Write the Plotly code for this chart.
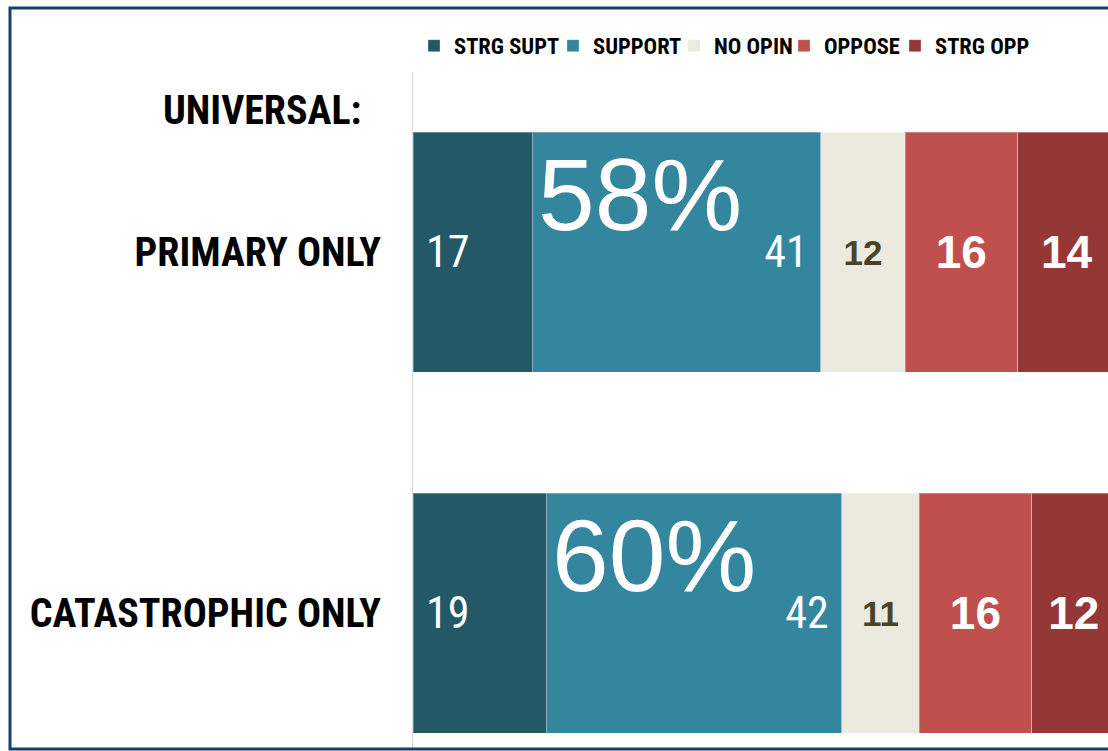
import plotly.graph_objects as go

categories = ["PRIMARY ONLY", "CATASTROPHIC ONLY"]
series_names = ["STRG SUPT", "SUPPORT", "NO OPIN", "OPPOSE", "STRG OPP"]
strg_supt = [17, 19]
support = [41, 42]
no_opin = [12, 11]
oppose = [16, 16]
strg_opp = [14, 12]
total_support = [58, 60]
group_label = "UNIVERSAL:"

series_values = [strg_supt, support, no_opin, oppose, strg_opp]
colors = ["#235866", "#33869E", "#ECEADF", "#C0504D", "#953735"]

COND = "Roboto, Liberation Sans Narrow, Arial Narrow, sans-serif"
REG = "Liberation Sans, Arial, sans-serif"
NB = "\u00a0"

W, H = 1116, 751
ML, MT = 413, 72
PW, PH = W - ML, H - MT


def px(xp):
    return (xp - ML) / PW


def py(yp):
    return 1 - (yp - MT) / PH


def cond(s, bold=False):
    inner = "<b>%s</b>" % s if bold else s
    return "<span style='font-stretch:condensed'>%s</span>" % inner


styles = [
    dict(font=dict(family=COND, size=44, color="white"), anchor="start",
         fmt=lambda v: cond(NB + str(v))),
    dict(font=dict(family=COND, size=44, color="white"), anchor="end",
         fmt=lambda v: cond(str(v) + NB)),
    dict(font=dict(family=REG, size=35, color="#494429"), anchor="middle",
         fmt=lambda v: "<b>%d</b>" % v),
    dict(font=dict(family=REG, size=46, color="white"), anchor="middle",
         fmt=lambda v: "<b>%d</b>" % v),
    dict(font=dict(family=REG, size=46, color="white"), anchor="middle",
         fmt=lambda v: "<b>%d</b>" % v),
]

legend_ids = ["legend", "legend2", "legend3", "legend4", "legend5"]
legend_text_x = [454, 593, 714, 824, 935]

fig = go.Figure()
for name, vals, col, st, lid in zip(series_names, series_values, colors, styles, legend_ids):
    fig.add_trace(go.Bar(
        name=cond(name, bold=True), y=categories, x=vals, orientation="h",
        marker=dict(color=col, line=dict(color="rgba(255,255,255,0.3)", width=1)),
        text=[st["fmt"](v) for v in vals], textposition="inside",
        insidetextanchor=st["anchor"], textfont=st["font"],
        width=0.665, hoverinfo="skip", legend=lid,
    ))

for cat, base, tot in zip(categories, strg_supt, total_support):
    fig.add_annotation(x=base, y=cat, xref="x", yref="y", text="%d%%" % tot,
                       showarrow=False, xanchor="left", yanchor="middle",
                       xshift=3, yshift=57,
                       font=dict(family=REG, size=102, color="white"))

fig.add_annotation(x=px(364), y=py(110), xref="paper", yref="paper",
                   text=cond(group_label, bold=True), showarrow=False,
                   xanchor="right", yanchor="middle",
                   font=dict(family=COND, size=40, color="black"))

fig.add_shape(type="rect", xref="paper", yref="paper",
              x0=px(10), x1=1.05, y0=1 - (749 - MT) / PH, y1=py(8),
              line=dict(color="#17406E", width=3), fillcolor="rgba(0,0,0,0)", layer="above")

legend_cfg = {}
for lid, tx in zip(legend_ids, legend_text_x):
    legend_cfg[lid] = dict(orientation="h", x=px(tx - 40), y=py(46), xanchor="left",
                           yanchor="middle", font=dict(family=COND, size=22.5, color="black"),
                           itemwidth=30, bgcolor="rgba(0,0,0,0)", borderwidth=0)

fig.update_layout(
    template="none",
    width=W, height=H,
    margin=dict(l=ML, r=0, t=MT, b=0, autoexpand=False),
    paper_bgcolor="white", plot_bgcolor="white",
    barmode="stack", showlegend=True,
    xaxis=dict(range=[0, 100], visible=False, fixedrange=True, automargin=False),
    yaxis=dict(categoryorder="array", categoryarray=categories[::-1],
               tickmode="array", tickvals=categories,
               ticktext=[cond(c, bold=True) for c in categories],
               range=[-0.382, 1.5], showline=True, linecolor="#D9D9D9", linewidth=1,
               ticks="", showgrid=False, zeroline=False, ticklabelstandoff=23,
               automargin=False, fixedrange=True,
               tickfont=dict(family=COND, size=40, color="black")),
    uniformtext=dict(mode=False),
    **legend_cfg,
)

fig.write_html(
    "out.html",
    config={"displayModeBar": False, "staticPlot": False},
    post_script="document.body.style.margin='0';document.body.style.overflow='hidden';"
                "document.documentElement.style.overflow='hidden';",
)
